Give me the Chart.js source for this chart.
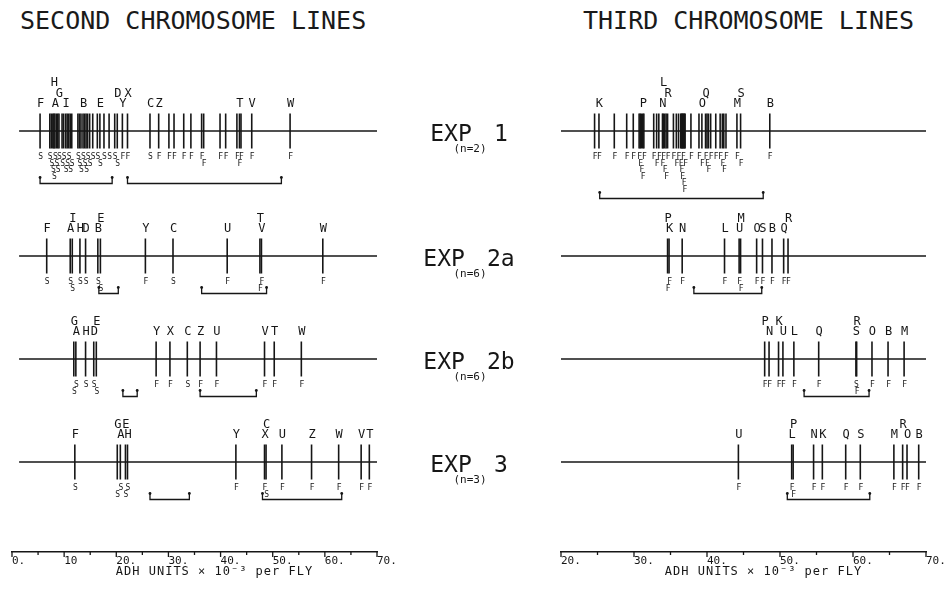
<!DOCTYPE html>
<html lang="en">
<head>
<meta charset="UTF-8">
<meta name="viewport" content="width=device-width, initial-scale=1.0">
<title>ADH activity of chromosome lines</title>
<script src="https://cdn.jsdelivr.net/npm/chart.js"></script>
<style>
  html, body { margin: 0; padding: 0; background: #fff; }
  body { position: relative; width: 946px; height: 592px; overflow: hidden;
         font-family: "DejaVu Sans Mono", monospace; color: #1a1a1a; }
  .heading { position: absolute; top: 8px; font-size: 25px; line-height: 25px; white-space: nowrap; }
  canvas { position: absolute; }
</style>
</head>
<body>
<div class="heading" style="left:20px">SECOND CHROMOSOME LINES</div>
<div class="heading" style="left:583px">THIRD CHROMOSOME LINES</div>

<script>
// experiments (rows) and number of flies per experiment
const experiments = ['1', '2a', '2b', '3'];
const flyCounts = [2, 6, 6, 3];

// axis tick labels
const secondTicks = ['0.', '10', '20.', '30.', '40.', '50.', '60.', '70.'];
const thirdTicks = ['20.', '30.', '40.', '50.', '60.', '70.'];

// second chromosome lines. values = ADH units, names = line letter ('.' = unnamed),
// alleles = S / F code under each line, ranges = brackets under the row
const second1Values = [4.1, 6.0, 6.3, 7.0, 6.6, 7.8, 6.8, 7.3, 7.55, 8.4, 8.7, 9.1, 9.4, 9.7, 10.0, 10.3,
  11.5, 11.8, 12.1, 12.5, 12.8, 13.1, 13.4, 13.8, 14.4, 15.3, 15.8, 16.6, 17.6, 18.7, 20.2, 19.2, 21.2,
  25.6, 27.3, 29.3, 30.3, 32.2, 33.6, 35.7, 36.1, 39.3, 40.4, 42.6, 43.1, 43.4, 45.5, 53.0];
const second1Names = 'F..A.GH....I.......B......E...YDXCZ.........T.VW';
const second1Alleles = 'SSSSSSSSSSSSSSSSSSSSSSSSSSSSSSFSFSFFFFFFFFFFFFFF';
const second1Ranges = [[4.1, 18.2], [21.2, 51.3]];

const second2aValues = [5.4, 10.0, 10.4, 11.9, 13.0, 15.4, 15.9, 24.7, 30.1, 40.7, 47.4, 47.1, 59.4];
const second2aNames = 'FAIHDBEYCUVTW';
const second2aAlleles = 'SSSSSSSFSFFFF';
const second2aRanges = [[15.6, 19.4], [35.7, 48.4]];

const second2bValues = [11.1, 10.7, 13.0, 14.6, 15.1, 26.8, 29.5, 32.9, 35.4, 38.6, 48.0, 49.9, 55.2];
const second2bNames = 'AGHDEYXCZUVTW';
const second2bAlleles = 'SSSSSFFSFFFFF';
const second2bRanges = [[20.3, 23.1], [35.4, 46.4]];

const second3Values = [10.9, 19.8, 21.2, 19.2, 20.8, 42.4, 48.0, 48.3, 51.4, 57.2, 62.5, 66.9, 68.5];
const second3Names = 'FAHGEYXCUZWVT';
const second3Alleles = 'SSSSSFFSFFFFF';
const second3Ranges = [[25.6, 33.3], [47.6, 63.1]];

// third chromosome lines
const third1Values = [24.6, 25.2, 27.3, 29.0, 29.9, 30.7, 30.85, 31.0, 31.2, 31.35, 32.7, 33.1, 33.4,
  33.9, 34.6, 34.0, 34.2, 34.4, 35.4, 35.8, 36.1, 36.4, 36.5, 36.6, 36.7, 36.8, 36.9, 37.0, 37.8, 38.9,
  39.3, 39.8, 40.0, 40.2, 40.5, 41.2, 41.8, 42.1, 42.3, 42.6, 44.1, 44.6, 48.6];
const third1Names = '.K......P....NRL..............OQ........MSB';
const third1Alleles = 'FFFFFFFFFFFFFFFFFFFFFFFFFFFFFFFFFFFFFFFFFFF';
const third1Ranges = [[25.3, 47.7]];

const third2aValues = [34.8, 34.6, 36.6, 42.4, 44.4, 44.6, 46.8, 47.6, 48.9, 50.5, 51.1];
const third2aNames = 'KPNLUMOSBQR';
const third2aAlleles = 'FFFFFFFFFFF';
const third2aRanges = [[38.2, 47.5]];

const third2bValues = [48.5, 47.9, 50.4, 49.8, 51.9, 55.3, 60.4, 60.5, 62.6, 64.8, 67.0];
const third2bNames = 'NPUKLQSROBM';
const third2bAlleles = 'FFFFFFSFFFF';
const third2bRanges = [[53.3, 62.2]];

const third3Values = [44.3, 51.6, 51.8, 54.6, 55.8, 59.0, 61.0, 65.6, 67.4, 66.8, 69.0];
const third3Names = 'ULPNKQSMORB';
const third3Alleles = 'FFFFFFFFFFF';
const third3Ranges = [[51.0, 62.3]];

const INK = '#161616';
const MONO = '"DejaVu Sans Mono", monospace';
Chart.defaults.font.family = MONO;
Chart.defaults.color = INK;

const rowBase = [131, 256, 359, 462];   // baseline of each row on the page
const ROW_H = 140;

const sides = [
  { left: 0, width: 420, padLeft: 12, padRight: 43, ticks: secondTicks, expLabels: false,
    rows: [
      { values: second1Values, names: second1Names, alleles: second1Alleles, ranges: second1Ranges },
      { values: second2aValues, names: second2aNames, alleles: second2aAlleles, ranges: second2aRanges },
      { values: second2bValues, names: second2bNames, alleles: second2bAlleles, ranges: second2bRanges },
      { values: second3Values, names: second3Names, alleles: second3Alleles, ranges: second3Ranges }
    ] },
  { left: 400, width: 566, padLeft: 161, padRight: 40, ticks: thirdTicks, expLabels: true,
    rows: [
      { values: third1Values, names: third1Names, alleles: third1Alleles, ranges: third1Ranges },
      { values: third2aValues, names: third2aNames, alleles: third2aAlleles, ranges: third2aRanges },
      { values: third2bValues, names: third2bNames, alleles: third2bAlleles, ranges: third2bRanges },
      { values: third3Values, names: third3Names, alleles: third3Alleles, ranges: third3Ranges }
    ] }
];

function addCanvas(left, top, w, h) {
  const c = document.createElement('canvas');
  c.width = w; c.height = h;
  c.style.left = left + 'px'; c.style.top = top + 'px';
  document.body.appendChild(c);
  return c;
}

// letters above, allele codes below, brackets, and the EXP label in the middle
function rowMarksPlugin(side, row, k) {
  return {
    id: 'rowMarks',
    afterDatasetsDraw(chart) {
      const ctx = chart.ctx;
      const xs = chart.scales.x;
      const y0 = chart.scales.y.getPixelForValue(0);
      ctx.save();
      ctx.fillStyle = INK;
      ctx.strokeStyle = INK;
      ctx.textAlign = 'center';
      ctx.textBaseline = 'alphabetic';

      // line letters, pushed up a level when they would overlap
      ctx.font = '12px ' + MONO;
      const up = [];
      row.values.forEach((v, i) => {
        const name = row.names[i];
        if (name === '.') return;
        const px = xs.getPixelForValue(v);
        let level = 0;
        while (up.some(p => p.level === level && Math.abs(p.px - px) < 5.5)) level++;
        up.push({ px, level });
        ctx.fillText(name, px + 0.5, y0 - 24 - level * 10.5);
      });

      // S / F codes, pushed down a level when they would overlap
      ctx.font = '8px ' + MONO;
      const down = [];
      let deepest = 0;
      row.values.forEach((v, i) => {
        const px = xs.getPixelForValue(v);
        let level = 0;
        while (down.some(p => p.level === level && Math.abs(p.px - px) < 4)) level++;
        down.push({ px, level });
        deepest = Math.max(deepest, level);
        ctx.fillText(row.alleles[i], px + 0.5, y0 + 28 + level * 6.5);
      });

      // brackets
      const by = y0 + 30 + deepest * 7.5;
      ctx.lineWidth = 1.3;
      row.ranges.forEach(([a, b]) => {
        const xa = xs.getPixelForValue(a);
        const xb = xs.getPixelForValue(b);
        ctx.beginPath();
        ctx.moveTo(xa, by - 6); ctx.lineTo(xa, by);
        ctx.lineTo(xb, by); ctx.lineTo(xb, by - 6);
        ctx.stroke();
        [xa, xb].forEach(x => {
          ctx.beginPath(); ctx.arc(x, by - 6, 1.4, 0, Math.PI * 2); ctx.fill();
        });
      });

      if (side.expLabels) {
        const cx = 469 - side.left;
        ctx.font = '23px ' + MONO;
        const cell = ctx.measureText('E').width;
        const suffix = experiments[k];
        const total = (4.6 + suffix.length) * cell;
        const lx = cx - total / 2;
        ctx.textAlign = 'left';
        ctx.fillText('EXP', lx, y0 + 9.5);
        ctx.fillText(suffix, lx + 4.6 * cell, y0 + 9.5);
        ctx.font = '11px ' + MONO;
        ctx.textAlign = 'center';
        ctx.fillText('(n=' + flyCounts[k] + ')', cx + 1, y0 + 20.5);
      }
      ctx.restore();
    }
  };
}

function makeRow(side, row, k) {
  const canvas = addCanvas(side.left, rowBase[k] - ROW_H / 2, side.width, ROW_H);
  const min = parseFloat(side.ticks[0]);
  const max = parseFloat(side.ticks[side.ticks.length - 1]);
  new Chart(canvas, {
    type: 'scatter',
    data: {
      datasets: [
        { type: 'line', data: [{ x: min, y: 0 }, { x: max, y: 0 }],
          borderColor: INK, borderWidth: 1.4, pointRadius: 0 },
        { data: row.values.map(v => ({ x: v, y: 0 })),
          pointStyle: 'line', pointRotation: 90, pointRadius: 17.5,
          pointBorderWidth: 1.6, pointBorderColor: INK, pointBackgroundColor: INK }
      ]
    },
    options: {
      responsive: false,
      animation: false,
      events: [],
      layout: { padding: { left: side.padLeft, right: side.padRight, top: 0, bottom: 0 } },
      scales: {
        x: { type: 'linear', min: min, max: max, display: false },
        y: { min: -1, max: 1, display: false }
      },
      plugins: { legend: { display: false }, tooltip: { enabled: false } }
    },
    plugins: [rowMarksPlugin(side, row, k)]
  });
}

function axisPlugin() {
  return {
    id: 'axisExtras',
    afterDraw(chart) {
      const ctx = chart.ctx;
      const xs = chart.scales.x;
      const yb = chart.chartArea.bottom;
      ctx.save();
      ctx.strokeStyle = INK;
      ctx.fillStyle = INK;
      ctx.lineWidth = 1.3;
      xs.ticks.forEach(t => {
        const px = xs.getPixelForValue(t.value);
        const len = t.value % 10 === 0 ? 5 : 3;
        ctx.beginPath(); ctx.moveTo(px, yb); ctx.lineTo(px, yb + len); ctx.stroke();
      });
      ctx.font = '12px ' + MONO;
      ctx.letterSpacing = '1px';
      ctx.textAlign = 'center';
      ctx.fillText('ADH UNITS × 10⁻³ per FLY', (chart.chartArea.left + chart.chartArea.right) / 2 + 20, yb + 23);
      ctx.restore();
    }
  };
}

function makeAxis(side) {
  const canvas = addCanvas(side.left, 520, side.width, 72);
  const min = parseFloat(side.ticks[0]);
  const max = parseFloat(side.ticks[side.ticks.length - 1]);
  new Chart(canvas, {
    type: 'scatter',
    data: { datasets: [] },
    options: {
      responsive: false,
      animation: false,
      events: [],
      layout: { padding: { left: side.padLeft, right: side.padRight, top: 0, bottom: 0 } },
      scales: {
        x: {
          type: 'linear', min: min, max: max, position: 'bottom',
          afterFit: s => { s.height = 40; },
          border: { display: true, color: INK, width: 1.4 },
          grid: { display: false, drawTicks: false },
          ticks: {
            stepSize: 5, autoSkip: false, maxRotation: 0, align: 'start', padding: 3,
            color: INK, font: { size: 11, family: MONO },
            callback: v => (v % 10 === 0 ? side.ticks[(v - min) / 10] : '')
          }
        },
        y: { display: false, min: 0, max: 1 }
      },
      plugins: { legend: { display: false }, tooltip: { enabled: false } }
    },
    plugins: [axisPlugin()]
  });
}

sides.forEach(side => {
  side.rows.forEach((row, k) => makeRow(side, row, k));
  makeAxis(side);
});
</script>
</body>
</html>
